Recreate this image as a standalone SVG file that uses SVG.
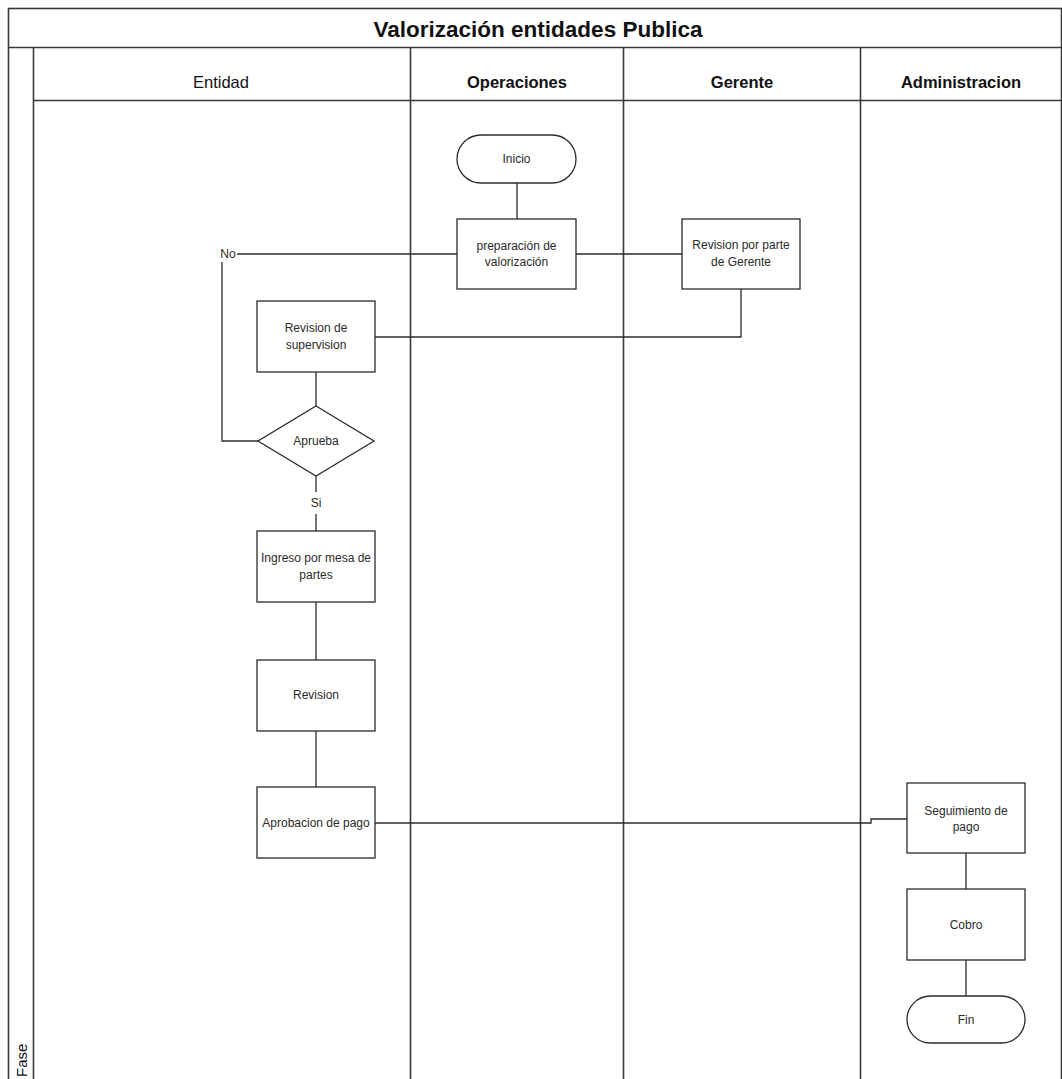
<svg xmlns="http://www.w3.org/2000/svg" width="1062" height="1079" viewBox="0 0 1062 1079">
  <style>
    .frame { fill: none; stroke: #3a3a3a; stroke-width: 1.6; }
    .shape { fill: #ffffff; stroke: #2b2b2b; stroke-width: 1.3; }
    .conn { fill: none; stroke: #2b2b2b; stroke-width: 1.3; }
    .lbl { font-family: "Liberation Sans", Arial, sans-serif; font-size: 12px; fill: #2a2a2a; text-anchor: middle; dominant-baseline: central; }
    .title { font-family: "Liberation Sans", Arial, sans-serif; font-size: 22.5px; font-weight: bold; fill: #111; text-anchor: middle; dominant-baseline: central; }
    .lane { font-family: "Liberation Sans", Arial, sans-serif; font-size: 16.5px; fill: #111; text-anchor: middle; dominant-baseline: central; }
    .bold { font-weight: bold; }
    .side { font-family: "Liberation Sans", Arial, sans-serif; font-size: 15px; fill: #111; text-anchor: start; dominant-baseline: central; }
  </style>

  <rect width="1062" height="1079" fill="#ffffff"/>

  <!-- pool frame, title bar, lane headers and dividers -->
  <g id="pool">
    <rect class="frame" x="8.5" y="8.5" width="1053" height="1072"/>
    <line class="frame" x1="8" y1="47.5" x2="1062" y2="47.5"/>
    <line class="frame" x1="33.5" y1="47" x2="33.5" y2="1079"/>
    <line class="frame" x1="33" y1="100.5" x2="1062" y2="100.5"/>
    <line class="frame" x1="410.5" y1="47" x2="410.5" y2="1079"/>
    <line class="frame" x1="623.5" y1="47" x2="623.5" y2="1079"/>
    <line class="frame" x1="860.5" y1="47" x2="860.5" y2="1079"/>
    <text class="title" x="538" y="29">Valorización entidades Publica</text>
    <text class="lane" x="221" y="82">Entidad</text>
    <text class="lane bold" x="517" y="82">Operaciones</text>
    <text class="lane bold" x="742" y="82">Gerente</text>
    <text class="lane bold" x="961" y="82">Administracion</text>
    <text class="side" x="0" y="0" transform="translate(21 1077) rotate(-90)">Fase</text>
  </g>

  <!-- connectors -->
  <g id="connectors">
    <path class="conn" d="M517,183 V219"/>
    <path class="conn" d="M576,254 H682"/>
    <path class="conn" d="M457,254 H237"/>
    <path class="conn" d="M258,441 H222 V262"/>
    <path class="conn" d="M741,289 V337 H375"/>
    <path class="conn" d="M316,372 V406"/>
    <path class="conn" d="M316,476 V492"/>
    <path class="conn" d="M316,514 V531"/>
    <path class="conn" d="M316,602 V660"/>
    <path class="conn" d="M316,731 V787"/>
    <path class="conn" d="M375,823 H871 V819 H907"/>
    <path class="conn" d="M966,853 V889"/>
    <path class="conn" d="M966,960 V996"/>
    <text class="lbl" x="228" y="254">No</text>
    <text class="lbl" x="316" y="503">Si</text>
  </g>

  <g id="inicio">
    <rect class="shape" x="457" y="135" width="119" height="48" rx="24" ry="24"/>
    <text class="lbl" x="516.5" y="159">Inicio</text>
  </g>

  <g id="preparacion">
    <rect class="shape" x="457" y="219" width="119" height="70"/>
    <text class="lbl" x="516.5" y="246">preparación de</text>
    <text class="lbl" x="516.5" y="262">valorización</text>
  </g>

  <g id="revision-gerente">
    <rect class="shape" x="682" y="219" width="118" height="70"/>
    <text class="lbl" x="741" y="245">Revision por parte</text>
    <text class="lbl" x="741" y="262">de Gerente</text>
  </g>

  <g id="revision-supervision">
    <rect class="shape" x="257" y="301" width="118" height="71"/>
    <text class="lbl" x="316" y="328">Revision de</text>
    <text class="lbl" x="316" y="345">supervision</text>
  </g>

  <g id="aprueba">
    <polygon class="shape" points="316,406 374,441 316,476 258,441"/>
    <text class="lbl" x="316" y="441">Aprueba</text>
  </g>

  <g id="ingreso">
    <rect class="shape" x="257" y="531" width="118" height="71"/>
    <text class="lbl" x="316" y="558">Ingreso por mesa de</text>
    <text class="lbl" x="316" y="575">partes</text>
  </g>

  <g id="revision">
    <rect class="shape" x="257" y="660" width="118" height="71"/>
    <text class="lbl" x="316" y="695">Revision</text>
  </g>

  <g id="aprobacion">
    <rect class="shape" x="257" y="787" width="118" height="71"/>
    <text class="lbl" x="316" y="823">Aprobacion de pago</text>
  </g>

  <g id="seguimiento">
    <rect class="shape" x="907" y="783" width="118" height="70"/>
    <text class="lbl" x="966" y="811">Seguimiento de</text>
    <text class="lbl" x="966" y="827">pago</text>
  </g>

  <g id="cobro">
    <rect class="shape" x="907" y="889" width="118" height="71"/>
    <text class="lbl" x="966" y="925">Cobro</text>
  </g>

  <g id="fin">
    <rect class="shape" x="907" y="996" width="118" height="47" rx="23.5" ry="23.5"/>
    <text class="lbl" x="966" y="1019.5">Fin</text>
  </g>
</svg>
